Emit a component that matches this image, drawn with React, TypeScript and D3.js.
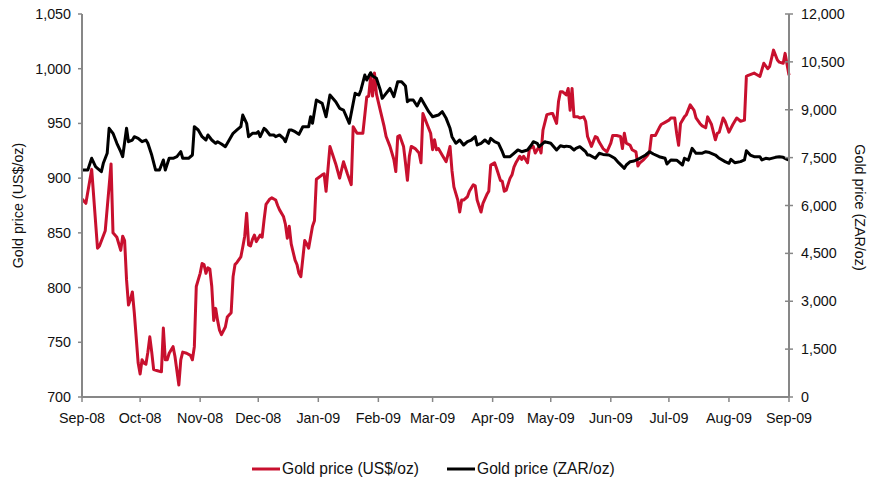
import React from "react";
import * as d3 from "d3";

const usdSeries: [string, number][] = [
  ["2008-09-01", 881], ["2008-09-03", 877], ["2008-09-06", 908], ["2008-09-09", 836], ["2008-09-10", 838],
  ["2008-09-13", 852], ["2008-09-16", 913], ["2008-09-17", 850], ["2008-09-19", 846], ["2008-09-21", 834],
  ["2008-09-22", 847], ["2008-09-23", 843], ["2008-09-24", 807], ["2008-09-25", 784], ["2008-09-26", 789],
  ["2008-09-27", 796], ["2008-09-28", 777], ["2008-09-30", 731], ["2008-10-01", 721], ["2008-10-02", 734],
  ["2008-10-03", 731], ["2008-10-04", 730], ["2008-10-05", 741], ["2008-10-06", 755], ["2008-10-07", 741],
  ["2008-10-08", 725], ["2008-10-10", 724], ["2008-10-12", 723], ["2008-10-13", 763], ["2008-10-14", 734],
  ["2008-10-15", 734], ["2008-10-16", 740], ["2008-10-18", 746], ["2008-10-19", 737], ["2008-10-21", 711],
  ["2008-10-22", 734], ["2008-10-23", 741], ["2008-10-25", 740], ["2008-10-27", 738], ["2008-10-28", 734],
  ["2008-10-29", 746], ["2008-10-30", 801], ["2008-11-01", 813], ["2008-11-02", 822], ["2008-11-03", 821],
  ["2008-11-04", 813], ["2008-11-05", 818], ["2008-11-06", 817], ["2008-11-07", 801], ["2008-11-08", 770],
  ["2008-11-09", 781], ["2008-11-10", 770], ["2008-11-11", 761], ["2008-11-12", 757], ["2008-11-14", 764],
  ["2008-11-15", 773], ["2008-11-17", 777], ["2008-11-18", 810], ["2008-11-19", 821], ["2008-11-20", 823],
  ["2008-11-22", 828], ["2008-11-23", 837], ["2008-11-24", 847], ["2008-11-25", 868], ["2008-11-26", 839],
  ["2008-11-27", 838], ["2008-11-28", 844], ["2008-11-29", 848], ["2008-11-30", 842], ["2008-12-02", 848],
  ["2008-12-03", 846], ["2008-12-04", 862], ["2008-12-05", 876], ["2008-12-07", 881], ["2008-12-08", 882],
  ["2008-12-10", 880], ["2008-12-11", 875], ["2008-12-12", 871], ["2008-12-14", 865], ["2008-12-15", 858],
  ["2008-12-16", 845], ["2008-12-17", 856], ["2008-12-18", 840], ["2008-12-20", 825], ["2008-12-21", 821],
  ["2008-12-22", 813], ["2008-12-23", 810], ["2008-12-25", 843], ["2008-12-26", 840], ["2008-12-27", 836],
  ["2008-12-29", 856], ["2008-12-30", 861], ["2008-12-31", 899], ["2009-01-03", 903], ["2009-01-04", 904],
  ["2009-01-05", 888], ["2009-01-07", 929], ["2009-01-10", 913], ["2009-01-12", 900], ["2009-01-14", 915],
  ["2009-01-16", 904], ["2009-01-18", 894], ["2009-01-19", 947], ["2009-01-21", 941], ["2009-01-24", 941],
  ["2009-01-26", 974], ["2009-01-27", 975], ["2009-01-28", 992], ["2009-01-29", 975], ["2009-01-30", 996],
  ["2009-01-31", 977], ["2009-02-02", 962], ["2009-02-04", 947], ["2009-02-05", 938], ["2009-02-07", 929],
  ["2009-02-09", 917], ["2009-02-10", 906], ["2009-02-11", 938], ["2009-02-12", 939], ["2009-02-14", 929],
  ["2009-02-15", 914], ["2009-02-16", 898], ["2009-02-17", 920], ["2009-02-18", 929], ["2009-02-20", 927],
  ["2009-02-22", 923], ["2009-02-23", 914], ["2009-02-24", 959], ["2009-02-26", 950], ["2009-02-28", 941],
  ["2009-03-01", 926], ["2009-03-02", 935], ["2009-03-03", 926], ["2009-03-04", 927], ["2009-03-06", 921],
  ["2009-03-07", 918], ["2009-03-08", 915], ["2009-03-10", 929], ["2009-03-11", 907], ["2009-03-12", 892],
  ["2009-03-14", 880], ["2009-03-15", 869], ["2009-03-16", 880], ["2009-03-17", 880], ["2009-03-19", 883],
  ["2009-03-20", 888], ["2009-03-22", 894], ["2009-03-23", 893], ["2009-03-24", 880], ["2009-03-26", 869],
  ["2009-03-27", 877], ["2009-03-29", 885], ["2009-03-30", 888], ["2009-03-31", 912], ["2009-04-02", 914],
  ["2009-04-03", 909], ["2009-04-05", 898], ["2009-04-06", 897], ["2009-04-07", 888], ["2009-04-08", 889],
  ["2009-04-10", 900], ["2009-04-11", 903], ["2009-04-12", 910], ["2009-04-13", 914], ["2009-04-15", 920],
  ["2009-04-16", 917], ["2009-04-17", 920], ["2009-04-19", 914], ["2009-04-20", 927], ["2009-04-22", 929],
  ["2009-04-23", 923], ["2009-04-25", 929], ["2009-04-26", 923], ["2009-04-27", 944], ["2009-04-29", 958],
  ["2009-05-01", 959], ["2009-05-02", 959], ["2009-05-04", 950], ["2009-05-05", 970], ["2009-05-06", 979],
  ["2009-05-07", 979], ["2009-05-09", 976], ["2009-05-10", 982], ["2009-05-11", 962], ["2009-05-12", 982],
  ["2009-05-13", 956], ["2009-05-15", 956], ["2009-05-16", 955], ["2009-05-18", 956], ["2009-05-19", 952],
  ["2009-05-20", 938], ["2009-05-22", 929], ["2009-05-24", 938], ["2009-05-25", 937], ["2009-05-26", 933],
  ["2009-05-28", 927], ["2009-05-30", 924], ["2009-06-01", 932], ["2009-06-02", 939], ["2009-06-04", 939],
  ["2009-06-06", 938], ["2009-06-07", 927], ["2009-06-08", 941], ["2009-06-09", 932], ["2009-06-11", 930],
  ["2009-06-12", 926], ["2009-06-14", 924], ["2009-06-15", 911], ["2009-06-16", 914], ["2009-06-18", 917],
  ["2009-06-20", 921], ["2009-06-21", 924], ["2009-06-22", 939], ["2009-06-24", 939], ["2009-06-26", 946],
  ["2009-06-27", 949], ["2009-06-29", 951], ["2009-07-01", 953], ["2009-07-02", 955], ["2009-07-04", 955],
  ["2009-07-05", 941], ["2009-07-06", 930], ["2009-07-07", 950], ["2009-07-09", 956], ["2009-07-10", 958],
  ["2009-07-12", 967], ["2009-07-14", 962], ["2009-07-15", 955], ["2009-07-17", 950], ["2009-07-18", 948],
  ["2009-07-20", 946], ["2009-07-21", 956], ["2009-07-23", 949], ["2009-07-25", 935], ["2009-07-26", 941],
  ["2009-07-27", 942], ["2009-07-29", 955], ["2009-07-30", 952], ["2009-08-01", 942], ["2009-08-03", 949],
  ["2009-08-05", 955], ["2009-08-07", 952], ["2009-08-09", 953], ["2009-08-10", 993], ["2009-08-11", 994],
  ["2009-08-14", 996], ["2009-08-15", 995], ["2009-08-17", 993], ["2009-08-19", 1005], ["2009-08-21", 1000],
  ["2009-08-22", 1002], ["2009-08-24", 1017], ["2009-08-26", 1008], ["2009-08-27", 1006], ["2009-08-29", 1005],
  ["2009-08-30", 1014], ["2009-09-01", 994],
];

const zarSeries: [string, number][] = [
  ["2008-09-01", 7112], ["2008-09-04", 7112], ["2008-09-06", 7479], ["2008-09-08", 7216], ["2008-09-09", 7165],
  ["2008-09-11", 7060], ["2008-09-12", 7322], ["2008-09-14", 7635], ["2008-09-15", 8418], ["2008-09-17", 8262],
  ["2008-09-19", 7949], ["2008-09-21", 7686], ["2008-09-22", 7529], ["2008-09-24", 8418], ["2008-09-25", 8000],
  ["2008-09-27", 8052], ["2008-09-28", 8156], ["2008-09-30", 8105], ["2008-10-02", 8000], ["2008-10-04", 8052],
  ["2008-10-05", 7949], ["2008-10-07", 7582], ["2008-10-09", 7112], ["2008-10-11", 7112], ["2008-10-13", 7426],
  ["2008-10-14", 7112], ["2008-10-16", 7479], ["2008-10-18", 7479], ["2008-10-20", 7529], ["2008-10-22", 7686],
  ["2008-10-23", 7479], ["2008-10-26", 7479], ["2008-10-28", 7582], ["2008-10-29", 8469], ["2008-10-31", 8366],
  ["2008-11-02", 8156], ["2008-11-04", 8052], ["2008-11-05", 8209], ["2008-11-07", 8052], ["2008-11-09", 7949],
  ["2008-11-10", 8000], ["2008-11-12", 7927], ["2008-11-14", 7842], ["2008-11-16", 8052], ["2008-11-18", 8262],
  ["2008-11-20", 8366], ["2008-11-22", 8469], ["2008-11-23", 8835], ["2008-11-25", 8575], ["2008-11-26", 8156],
  ["2008-11-28", 8262], ["2008-11-30", 8262], ["2008-12-01", 8313], ["2008-12-02", 8156], ["2008-12-04", 8418],
  ["2008-12-05", 8366], ["2008-12-07", 8209], ["2008-12-09", 8209], ["2008-12-10", 8156], ["2008-12-12", 8209],
  ["2008-12-14", 8105], ["2008-12-15", 8000], ["2008-12-17", 8366], ["2008-12-18", 8366], ["2008-12-20", 8313],
  ["2008-12-22", 8230], ["2008-12-24", 8469], ["2008-12-27", 8469], ["2008-12-28", 8782], ["2008-12-29", 8575],
  ["2008-12-31", 9305], ["2009-01-03", 9201], ["2009-01-05", 8782], ["2009-01-07", 9462], ["2009-01-10", 9252],
  ["2009-01-12", 9045], ["2009-01-14", 8992], ["2009-01-17", 8575], ["2009-01-20", 9515], ["2009-01-22", 9462],
  ["2009-01-23", 9619], ["2009-01-25", 10088], ["2009-01-26", 9932], ["2009-01-28", 10161], ["2009-01-29", 10057],
  ["2009-01-31", 9985], ["2009-02-02", 9619], ["2009-02-03", 9358], ["2009-02-05", 9515], ["2009-02-07", 9667],
  ["2009-02-09", 9410], ["2009-02-11", 9880], ["2009-02-13", 9880], ["2009-02-15", 9744], ["2009-02-16", 9252],
  ["2009-02-17", 9305], ["2009-02-19", 9305], ["2009-02-21", 9117], ["2009-02-23", 9358], ["2009-02-25", 9149],
  ["2009-02-27", 8939], ["2009-03-01", 8782], ["2009-03-04", 8835], ["2009-03-06", 8939], ["2009-03-08", 8731],
  ["2009-03-10", 8418], ["2009-03-11", 8156], ["2009-03-13", 7949], ["2009-03-15", 8052], ["2009-03-17", 7896],
  ["2009-03-19", 8000], ["2009-03-21", 8052], ["2009-03-23", 8156], ["2009-03-24", 7896], ["2009-03-26", 7949],
  ["2009-03-28", 8052], ["2009-03-30", 7949], ["2009-03-31", 8105], ["2009-04-02", 8000], ["2009-04-04", 7949],
  ["2009-04-06", 7686], ["2009-04-07", 7529], ["2009-04-10", 7529], ["2009-04-12", 7635], ["2009-04-14", 7739],
  ["2009-04-16", 7686], ["2009-04-19", 7739], ["2009-04-21", 7896], ["2009-04-22", 8000], ["2009-04-24", 7949],
  ["2009-04-25", 7842], ["2009-04-28", 8000], ["2009-04-29", 7980], ["2009-05-01", 7949], ["2009-05-04", 7739],
  ["2009-05-06", 7874], ["2009-05-08", 7842], ["2009-05-09", 7860], ["2009-05-11", 7842], ["2009-05-13", 7739],
  ["2009-05-14", 7790], ["2009-05-16", 7842], ["2009-05-18", 7739], ["2009-05-19", 7686], ["2009-05-20", 7582],
  ["2009-05-21", 7582], ["2009-05-24", 7479], ["2009-05-26", 7635], ["2009-05-28", 7600], ["2009-05-31", 7582],
  ["2009-06-01", 7550], ["2009-06-03", 7479], ["2009-06-05", 7342], ["2009-06-08", 7165], ["2009-06-09", 7269],
  ["2009-06-11", 7374], ["2009-06-13", 7394], ["2009-06-16", 7479], ["2009-06-19", 7582], ["2009-06-21", 7686],
  ["2009-06-23", 7614], ["2009-06-26", 7529], ["2009-06-29", 7479], ["2009-06-30", 7301], ["2009-07-02", 7426],
  ["2009-07-05", 7420], ["2009-07-08", 7269], ["2009-07-09", 7479], ["2009-07-11", 7420], ["2009-07-13", 7791],
  ["2009-07-15", 7635], ["2009-07-18", 7635], ["2009-07-20", 7686], ["2009-07-22", 7660], ["2009-07-25", 7582],
  ["2009-07-27", 7479], ["2009-07-30", 7374], ["2009-08-01", 7322], ["2009-08-02", 7447], ["2009-08-04", 7342],
  ["2009-08-07", 7374], ["2009-08-09", 7426], ["2009-08-10", 7717], ["2009-08-12", 7582], ["2009-08-14", 7529],
  ["2009-08-17", 7529], ["2009-08-18", 7426], ["2009-08-20", 7479], ["2009-08-22", 7460], ["2009-08-25", 7509],
  ["2009-08-27", 7529], ["2009-08-29", 7509], ["2009-08-31", 7447], ["2009-09-01", 7426],
];

const leftTicks = [700, 750, 800, 850, 900, 950, 1000, 1050];
const rightTicks = [0, 1500, 3000, 4500, 6000, 7500, 9000, 10500, 12000];
const monthTicks = [
  "2008-09-01", "2008-10-01", "2008-11-01", "2008-12-01", "2009-01-01", "2009-02-01", "2009-03-01",
  "2009-04-01", "2009-05-01", "2009-06-01", "2009-07-01", "2009-08-01", "2009-09-01",
];
const seriesNames = ["Gold price (US$/oz)", "Gold price (ZAR/oz)"];
const axisTitles = ["Gold price (US$/oz)", "Gold price (ZAR/oz)"];

const W = 874;
const H = 484;
const M = { left: 82, right: 789, top: 14, bottom: 397 };
const FONT = "'Liberation Sans', Arial, sans-serif";
const RED = "#C8102E";
const AXIS = "#878787";

export default function App() {
  const parse = d3.timeParse("%Y-%m-%d");
  const fmtMonth = d3.timeFormat("%b-%y");
  const fmtNum = d3.format(",");

  const x = d3
    .scaleTime()
    .domain([parse("2008-09-01")!, parse("2009-09-01")!])
    .range([M.left, M.right]);
  const yL = d3.scaleLinear().domain([700, 1050]).range([M.bottom, M.top]);
  const yR = d3.scaleLinear().domain([0, 12000]).range([M.bottom, M.top]);

  const usd = usdSeries.map(([d, v]) => ({ date: parse(d)!, v }));
  const zar = zarSeries.map(([d, v]) => ({ date: parse(d)!, v }));

  const lineL = d3
    .line<{ date: Date; v: number }>()
    .x((d) => x(d.date))
    .y((d) => yL(d.v));
  const lineR = d3
    .line<{ date: Date; v: number }>()
    .x((d) => x(d.date))
    .y((d) => yR(d.v));

  const legendY = 469;

  return (
    <svg
      width={W}
      height={H}
      style={{ position: "absolute", left: 0, top: 0, background: "#fff" }}
      fontFamily={FONT}
      fontSize={14.3}
    >
      <rect x={0} y={0} width={W} height={H} fill="#fff" />

      {/* series */}
      <path d={lineL(usd) || ""} fill="none" stroke={RED} strokeWidth={3} strokeLinejoin="round" />
      <path d={lineR(zar) || ""} fill="none" stroke="#000" strokeWidth={3} strokeLinejoin="round" />

      {/* left axis */}
      <line x1={M.left} x2={M.left} y1={M.top} y2={M.bottom} stroke={AXIS} strokeWidth={2} />
      {leftTicks.map((t) => (
        <g key={"l" + t}>
          <line x1={M.left - 4} x2={M.left} y1={yL(t)} y2={yL(t)} stroke={AXIS} strokeWidth={1.5} />
          <text x={71} y={yL(t)} dy="0.35em" textAnchor="end" fill="#111">
            {fmtNum(t)}
          </text>
        </g>
      ))}

      {/* right axis */}
      <line x1={M.right} x2={M.right} y1={M.top} y2={M.bottom} stroke={AXIS} strokeWidth={2} />
      {rightTicks.map((t) => (
        <g key={"r" + t}>
          <line x1={M.right - 4} x2={M.right + 4} y1={yR(t)} y2={yR(t)} stroke={AXIS} strokeWidth={1.5} />
          <text x={801} y={yR(t)} dy="0.35em" textAnchor="start" fill="#111">
            {fmtNum(t)}
          </text>
        </g>
      ))}

      {/* x axis */}
      <line x1={M.left} x2={M.right} y1={M.bottom} y2={M.bottom} stroke={AXIS} strokeWidth={2} />
      {monthTicks.map((m) => {
        const d = parse(m)!;
        return (
          <g key={m}>
            <line x1={x(d)} x2={x(d)} y1={M.bottom} y2={M.bottom + 5} stroke={AXIS} strokeWidth={1.5} />
            <text x={x(d)} y={423} textAnchor="middle" fill="#111">
              {fmtMonth(d)}
            </text>
          </g>
        );
      })}

      {/* axis titles */}
      <text
        transform={`translate(18, ${(M.top + M.bottom) / 2}) rotate(-90)`}
        textAnchor="middle"
        dy="0.35em"
        fill="#111"
      >
        {axisTitles[0]}
      </text>
      <text
        transform={`translate(860, ${(M.top + M.bottom) / 2 + 2}) rotate(90)`}
        textAnchor="middle"
        dy="0.35em"
        fill="#111"
      >
        {axisTitles[1]}
      </text>

      {/* legend */}
      <g fontSize={15.6}>
        <line x1={252} x2={280} y1={legendY} y2={legendY} stroke={RED} strokeWidth={3} />
        <text x={282} y={legendY} dy="0.35em" fill="#111">
          {seriesNames[0]}
        </text>
        <line x1={447} x2={475} y1={legendY} y2={legendY} stroke="#000" strokeWidth={3} />
        <text x={477} y={legendY} dy="0.35em" fill="#111">
          {seriesNames[1]}
        </text>
      </g>
    </svg>
  );
}
